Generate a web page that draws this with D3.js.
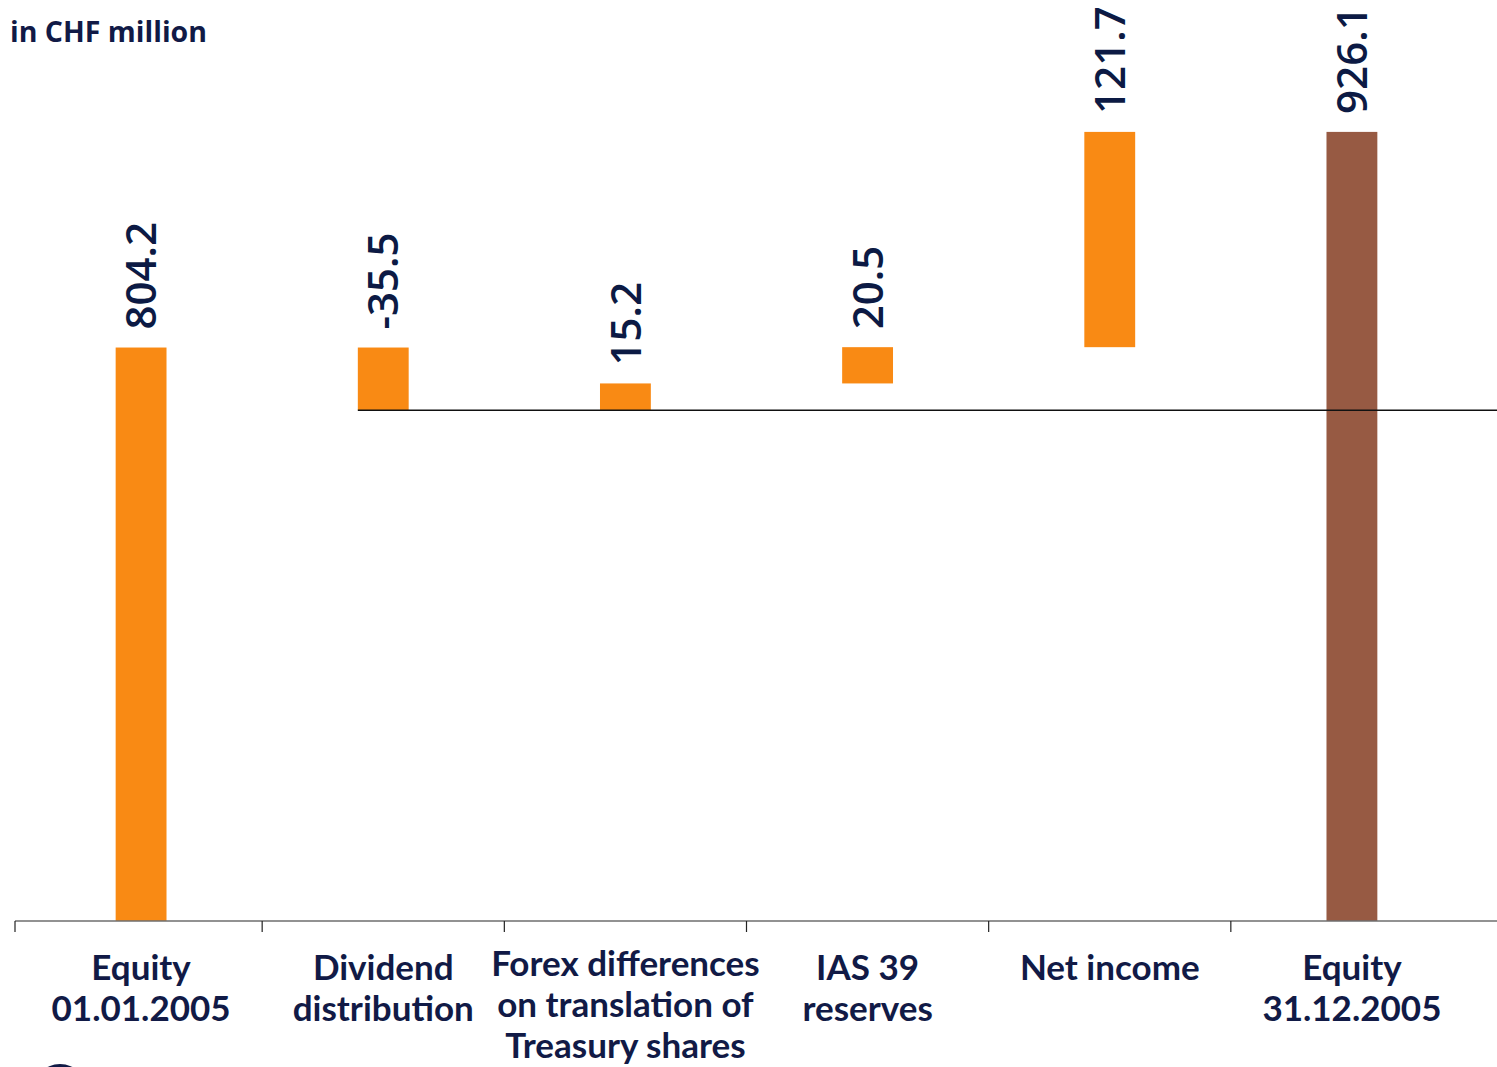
<!DOCTYPE html>
<html>
<head>
<meta charset="utf-8">
<script src="https://cdn.jsdelivr.net/npm/d3@7"></script>
<style>
  html, body { margin: 0; padding: 0; background: #ffffff; }
  svg { display: block; }
  text { font-family: "Open Sans", "Noto Sans", sans-serif; }
  text.cat { font-family: Lato, "Open Sans", sans-serif; }
</style>
</head>
<body>
<div id="chart"></div>
<script>
// Equity movements in CHF million (waterfall)
const categories = [
  ["Equity", "01.01.2005"],
  ["Dividend", "distribution"],
  ["Forex differences", "on translation of", "Treasury shares"],
  ["IAS 39", "reserves"],
  ["Net income"],
  ["Equity", "31.12.2005"]
];
const values = [804.2, -35.5, 15.2, 20.5, 121.7, 926.1];
const kinds = ["total", "delta", "delta", "delta", "delta", "total"];
const unitLabel = "in CHF million";
// truncated value axis (broken scale)
const axisDomain = [480, 930];

const W = 1497, H = 1067;
const orange = "#f98a14", brown = "#975a43", navy = "#111a46";

// plain hyphen for negative numbers
const fmt = d3.formatLocale({ decimal: ".", thousands: ",", grouping: [3], currency: ["", ""], minus: "-" }).format(".1f");

const svg = d3.select("#chart").append("svg")
  .attr("width", W).attr("height", H);

const x = d3.scaleBand()
  .domain(d3.range(categories.length))
  .range([20, 1473])
  .paddingInner(0.79)
  .paddingOuter(0.395);

const y = d3.scaleLinear().domain(axisDomain).range([921, 125]);

// running totals for the waterfall
let running = 0;
const bars = values.map((v, i) => {
  let lo, hi;
  if (kinds[i] === "total") {
    lo = axisDomain[0]; hi = v; running = v;
  } else {
    const start = running;
    running = start + v;
    lo = Math.min(start, running); hi = Math.max(start, running);
  }
  return { i, v, lo, hi, kind: kinds[i], level: running };
});

// bars
svg.append("g").selectAll("rect")
  .data(bars)
  .join("rect")
  .attr("x", d => x(d.i))
  .attr("width", x.bandwidth())
  .attr("y", d => y(d.hi))
  .attr("height", d => y(d.lo) - y(d.hi))
  .attr("fill", d => d.kind === "total" && d.i > 0 ? brown : orange);

// value labels, rotated above each bar
svg.append("g").selectAll("text")
  .data(bars)
  .join("text")
  .attr("transform", d => `translate(${x(d.i) + x.bandwidth() / 2},${y(d.hi) - 18}) rotate(-90)`)
  .attr("dy", "0.36em")
  .attr("text-anchor", "start")
  .attr("font-size", 42)
  .attr("font-weight", 600)
  .attr("fill", "#0c1a44")
  .text(d => fmt(d.v));

// reference line at the level after the dividend distribution
const firstDelta = bars.find(d => d.kind === "delta");
svg.append("line")
  .attr("x1", x(firstDelta.i))
  .attr("x2", W)
  .attr("y1", y(firstDelta.level))
  .attr("y2", y(firstDelta.level))
  .attr("stroke", "#111")
  .attr("stroke-width", 1.6);

// category axis
const axisY = y(axisDomain[0]);
svg.append("line")
  .attr("x1", 15).attr("x2", W)
  .attr("y1", axisY).attr("y2", axisY)
  .attr("stroke", "#6e6e6e").attr("stroke-width", 1.6);

svg.append("g").selectAll("line")
  .data(d3.range(categories.length))
  .join("line")
  .attr("x1", i => i === 0 ? 15 : x(i) - x.step() * x.paddingInner() / 2)
  .attr("x2", i => i === 0 ? 15 : x(i) - x.step() * x.paddingInner() / 2)
  .attr("y1", axisY).attr("y2", axisY + 11)
  .attr("stroke", "#222").attr("stroke-width", 1.2);

const catText = svg.append("g").selectAll("text")
  .data(categories)
  .join("text")
  .attr("class", "cat")
  .attr("text-anchor", "middle")
  .attr("font-size", 35)
  .attr("font-weight", 700)
  .attr("fill", navy)
  .attr("transform", (d, i) => `translate(${x(i) + x.bandwidth() / 2},${d.length > 2 ? 976 : 980})`);

catText.selectAll("tspan")
  .data(d => d)
  .join("tspan")
  .attr("x", 0)
  .attr("y", (d, j) => j * 41)
  .text(d => d);

// unit label
svg.append("text")
  .attr("x", 10).attr("y", 42)
  .attr("font-size", 28.5)
  .attr("font-weight", 700)
  .attr("fill", navy)
  .text(unitLabel);

// edge of the page ornament at the bottom left
svg.append("circle")
  .attr("cx", 60).attr("cy", 1092).attr("r", 28)
  .attr("fill", navy);
</script>
</body>
</html>
